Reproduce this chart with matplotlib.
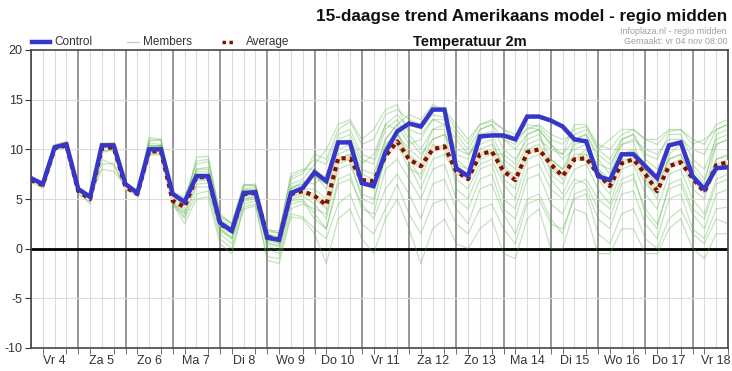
import numpy as np
import matplotlib
matplotlib.use("Agg")
from matplotlib import pyplot as plt

plt.rcParams['font.family'] = ['Liberation Sans', 'DejaVu Sans']

day_labels = ["Vr 4", "Za 5", "Zo 6", "Ma 7", "Di 8", "Wo 9", "Do 10", "Vr 11",
              "Za 12", "Zo 13", "Ma 14", "Di 15", "Wo 16", "Do 17", "Vr 18"]

# 6-hourly values, Vr 4 00:00 .. Vr 18 18:00
control = [7.1, 6.5, 10.2, 10.5, 6.0, 5.2, 10.4, 10.4, 6.5, 5.6, 10.0, 10.0,
           5.5, 4.7, 7.3, 7.3, 2.6, 1.8, 5.6, 5.7, 1.1, 0.9, 5.6, 6.1,
           7.7, 6.8, 10.7, 10.7, 6.6, 6.3, 9.7, 11.8, 12.6, 12.3, 14.0, 14.0,
           8.1, 7.3, 11.3, 11.4, 11.4, 11.0, 13.3, 13.3, 12.9, 12.3, 11.0, 10.8,
           7.3, 6.9, 9.5, 9.5, 8.3, 7.1, 10.4, 10.7, 7.3, 6.0, 8.1, 8.2]

average = [6.9, 6.4, 10.1, 10.4, 5.8, 5.0, 10.1, 10.2, 6.2, 5.5, 9.8, 9.8,
           4.8, 4.2, 7.2, 7.2, 2.5, 1.8, 5.5, 5.6, 1.2, 0.9, 5.5, 5.8,
           5.3, 4.4, 9.1, 9.1, 6.9, 6.8, 9.3, 10.8, 9.0, 8.3, 10.0, 10.3,
           7.8, 7.0, 9.5, 9.8, 7.8, 6.9, 9.7, 10.0, 8.5, 7.3, 9.0, 9.1,
           7.5, 6.3, 8.6, 9.0, 7.5, 5.8, 8.3, 8.7, 7.1, 5.7, 8.4, 8.7]

members = [
    [7.0, 6.5, 10.3, 10.6, 6.0, 5.3, 10.5, 10.5, 6.4, 5.7, 10.4, 10.3, 5.3, 4.6, 7.6, 7.5,
     2.8, 2.0, 5.8, 5.9, 1.5, 1.2, 6.0, 6.5, 7.2, 6.5, 10.5, 10.8, 7.0, 6.8, 10.2, 12.0,
     12.5, 12.0, 13.5, 13.2, 8.5, 8.0, 11.5, 11.8, 11.0, 10.5, 12.2, 12.0, 10.5, 9.0, 10.0, 10.5,
     8.0, 7.0, 9.5, 10.0, 8.5, 7.0, 10.2, 10.8, 7.5, 6.2, 9.0, 9.3],
    [6.8, 6.2, 9.9, 10.3, 5.6, 4.8, 9.8, 10.0, 6.0, 5.3, 9.6, 9.7, 4.8, 3.8, 6.8, 6.9,
     2.0, 1.2, 5.0, 5.2, 0.5, 0.2, 4.8, 5.0, 3.5, 2.0, 6.5, 7.0, 4.5, 3.0, 6.0, 7.5,
     5.5, 3.0, 6.5, 7.0, 4.0, 2.5, 6.0, 6.5, 3.5, 1.5, 5.0, 5.5, 3.0, 1.5, 5.5, 6.0,
     3.0, 2.0, 5.5, 5.8, 2.5, 1.0, 5.0, 5.5, 2.0, 1.0, 4.0, 4.2],
    [7.2, 6.7, 10.4, 10.8, 6.2, 5.5, 10.6, 10.7, 6.6, 5.9, 10.8, 11.0, 5.7, 5.2, 8.5, 8.8,
     3.2, 2.5, 6.4, 6.5, 1.8, 1.8, 7.0, 7.5, 9.5, 9.0, 12.0, 12.8, 10.5, 11.0, 13.5, 14.0,
     13.0, 12.5, 14.3, 13.8, 12.0, 10.5, 12.5, 13.0, 12.0, 11.5, 12.5, 12.3, 11.0, 10.5, 12.0, 12.3,
     10.5, 10.0, 11.5, 12.0, 11.0, 10.5, 11.8, 12.0, 11.0, 10.5, 12.5, 13.0],
    [6.9, 6.3, 10.0, 10.2, 5.7, 4.5, 9.0, 8.4, 6.0, 5.4, 9.5, 9.6, 4.5, 2.5, 5.0, 5.2,
     0.5, -0.5, 4.2, 4.5, -1.2, -1.5, 3.2, 3.0, 1.5, -1.5, 3.0, 4.0, 1.0, -0.5, 3.0, 5.0,
     2.0, -1.5, 2.0, 3.0, 0.5, 0.0, 2.0, 3.0, -0.5, -1.0, 3.0, 4.0, 0.0, 0.0, 4.0, 3.5,
     -0.5, -0.5, 2.0, 2.0, -0.5, -0.5, 2.0, 3.0, 0.0, -1.0, 1.5, 1.5],
    [7.0, 6.4, 10.1, 10.4, 5.8, 5.0, 8.0, 7.8, 6.3, 5.6, 10.0, 10.1, 5.0, 4.0, 9.2, 9.3,
     3.5, 2.5, 6.5, 6.3, 2.0, 1.5, 7.5, 8.0, 8.0, 7.0, 11.0, 11.5, 9.0, 8.5, 12.0, 13.0,
     11.0, 9.5, 11.0, 11.5, 9.5, 9.0, 12.0, 12.5, 10.0, 9.0, 11.0, 11.5, 9.0, 8.0, 10.5, 10.8,
     7.5, 6.5, 9.5, 9.8, 8.0, 6.0, 9.0, 9.5, 7.0, 5.5, 10.5, 11.0],
    [6.7, 6.1, 10.2, 10.5, 5.5, 4.8, 10.2, 10.3, 6.1, 5.5, 11.2, 11.0, 4.6, 3.5, 6.5, 6.6,
     1.5, 0.5, 4.5, 4.8, 0.0, -0.5, 4.0, 4.5, 4.0, 3.5, 8.0, 8.5, 5.5, 5.0, 9.0, 11.0,
     9.0, 7.0, 10.0, 10.5, 7.0, 6.0, 8.5, 9.0, 6.5, 5.0, 9.0, 9.5, 7.0, 5.5, 8.0, 8.5,
     6.0, 4.5, 8.0, 8.5, 5.5, 4.0, 7.5, 8.0, 5.0, 3.5, 7.0, 7.5],
    [7.1, 6.6, 10.4, 10.7, 6.1, 5.4, 10.3, 10.6, 6.5, 5.8, 10.6, 10.5, 5.5, 5.0, 8.0, 8.0,
     3.0, 2.2, 6.0, 6.2, 1.0, 0.8, 6.5, 7.0, 8.5, 10.0, 12.5, 13.0, 11.0, 12.0, 14.0, 14.5,
     11.5, 10.0, 12.0, 12.5, 11.0, 9.5, 11.0, 11.5, 9.0, 8.0, 10.5, 11.0, 10.0, 9.5, 12.5, 12.5,
     10.0, 9.0, 11.0, 11.5, 9.5, 9.0, 11.5, 11.5, 9.0, 8.0, 11.0, 11.5],
    [6.8, 6.3, 10.0, 10.3, 5.9, 5.1, 10.0, 10.1, 6.2, 5.4, 10.2, 10.3, 4.9, 4.2, 7.0, 7.0,
     2.2, 1.5, 5.2, 5.4, 0.8, 0.5, 5.2, 5.5, 5.0, 4.0, 9.0, 9.5, 6.5, 6.0, 10.0, 11.5,
     10.0, 9.0, 12.0, 12.0, 6.0, 5.0, 8.0, 8.5, 5.0, 4.0, 8.0, 8.5, 6.0, 5.0, 7.0, 6.5,
     4.0, 3.0, 6.5, 7.0, 4.0, 2.5, 6.0, 6.5, 3.5, 2.0, 5.5, 6.0],
    [7.0, 6.5, 10.2, 10.5, 5.9, 5.2, 10.4, 10.4, 6.4, 5.6, 9.8, 9.9, 5.2, 4.5, 7.8, 7.7,
     2.5, 1.8, 5.5, 5.7, 1.2, 1.0, 5.8, 6.0, 6.0, 5.0, 10.0, 10.5, 8.0, 7.5, 11.0, 12.5,
     13.5, 13.0, 14.5, 14.0, 12.5, 11.0, 12.5, 12.8, 12.0, 11.0, 12.0, 12.5, 11.5, 11.0, 11.5, 12.0,
     10.0, 11.0, 12.0, 12.0, 11.0, 11.0, 12.0, 12.0, 10.5, 11.0, 12.0, 12.5],
    [6.9, 6.4, 10.1, 10.4, 5.7, 4.9, 8.5, 8.6, 6.1, 5.5, 9.7, 9.8, 4.7, 3.0, 5.5, 5.8,
     1.0, 0.0, 4.0, 4.3, -0.8, -1.0, 3.5, 3.2, 2.0, 1.0, 4.5, 5.5, 2.5, 1.5, 4.0, 6.5,
     3.5, 1.5, 4.5, 5.0, 2.5, 1.5, 4.0, 4.5, 2.0, 0.5, 4.5, 5.0, 2.5, 2.0, 5.0, 5.5,
     1.5, 0.5, 3.5, 4.0, 1.0, 0.0, 3.0, 4.0, 1.5, 0.5, 3.0, 2.5],
    [7.1, 6.5, 10.3, 10.6, 6.0, 5.2, 10.6, 10.5, 6.5, 5.8, 10.2, 10.4, 5.4, 4.8, 7.5, 7.4,
     2.6, 1.9, 5.9, 6.0, 1.4, 1.1, 6.2, 6.5, 7.5, 6.0, 9.5, 10.0, 7.5, 7.0, 11.0, 12.5,
     10.5, 11.0, 13.0, 12.5, 10.0, 9.5, 10.5, 11.0, 8.0, 7.5, 9.5, 10.0, 8.0, 7.0, 11.0, 11.5,
     9.0, 7.5, 10.5, 10.8, 7.0, 5.0, 9.5, 10.5, 8.0, 6.5, 11.5, 12.0],
    [6.9, 6.3, 9.9, 10.2, 5.6, 4.7, 9.7, 9.9, 6.0, 5.3, 9.4, 9.5, 4.4, 3.2, 6.2, 6.2,
     1.8, 1.0, 4.8, 5.0, 0.3, -0.2, 4.5, 4.8, 3.0, 2.0, 7.0, 7.5, 4.0, 3.5, 8.0, 9.0,
     7.0, 5.0, 8.0, 8.5, 5.0, 4.0, 7.0, 7.5, 4.0, 3.0, 7.0, 7.5, 4.5, 3.5, 6.5, 7.0,
     5.0, 4.0, 7.0, 7.5, 3.5, 2.0, 6.5, 7.0, 4.0, 3.0, 6.5, 7.0],
    [7.2, 6.6, 10.5, 10.7, 6.1, 5.4, 10.5, 10.6, 6.6, 5.9, 11.0, 10.9, 5.6, 4.9, 8.8, 9.0,
     3.3, 2.6, 6.3, 6.4, 1.7, 1.6, 7.2, 7.8, 9.0, 8.5, 11.5, 12.0, 9.5, 9.0, 12.5, 13.5,
     12.0, 11.5, 13.0, 13.0, 11.5, 10.0, 12.0, 12.5, 11.0, 10.0, 11.5, 12.0, 10.5, 9.5, 11.0, 11.5,
     9.5, 8.5, 10.5, 11.0, 10.0, 9.5, 11.0, 11.0, 10.0, 9.5, 12.0, 12.5],
    [6.8, 6.2, 10.0, 10.3, 5.8, 5.0, 9.9, 10.0, 6.2, 5.5, 9.9, 10.0, 4.9, 4.0, 7.0, 7.1,
     2.3, 1.6, 5.3, 5.5, 0.9, 0.6, 5.0, 5.3, 4.5, 3.0, 8.5, 9.0, 5.0, 4.5, 9.5, 10.5,
     8.0, 7.5, 10.5, 10.0, 8.0, 7.0, 9.5, 10.0, 7.0, 6.0, 10.0, 10.5, 8.5, 7.5, 9.0, 9.5,
     7.0, 5.5, 8.5, 9.0, 6.5, 5.5, 8.5, 9.0, 6.0, 5.0, 8.5, 9.0],
    [7.0, 6.4, 10.2, 10.4, 5.9, 5.1, 10.2, 10.3, 6.3, 5.6, 10.1, 10.2, 5.1, 4.4, 7.2, 7.2,
     2.4, 1.7, 5.4, 5.6, 1.0, 0.7, 5.5, 5.8, 5.5, 4.5, 9.0, 9.5, 7.0, 6.5, 10.5, 11.5,
     9.5, 8.5, 11.0, 11.5, 9.0, 8.0, 10.0, 10.5, 8.5, 7.0, 10.0, 10.0, 9.0, 8.0, 9.5, 9.5,
     8.0, 6.5, 9.0, 9.0, 8.0, 6.5, 9.0, 9.5, 7.0, 5.5, 9.0, 9.5],
    [6.8, 6.3, 10.1, 10.3, 5.6, 4.9, 10.1, 10.2, 6.2, 5.5, 10.3, 10.4, 4.6, 3.6, 8.0, 8.2,
     2.0, 1.0, 5.0, 5.2, 0.6, 0.3, 6.0, 6.8, 6.5, 7.5, 10.5, 11.0, 8.5, 9.5, 12.5, 12.0,
     8.5, 6.0, 9.0, 9.5, 7.5, 7.0, 9.0, 9.5, 9.5, 8.5, 11.5, 12.0, 7.5, 6.5, 9.0, 10.0,
     8.5, 8.0, 11.0, 11.5, 9.0, 8.0, 10.5, 10.5, 8.5, 7.0, 10.5, 11.0],
]

steps = np.arange(len(control))

fig = plt.figure(figsize=(7.32, 3.71), dpi=100)
ax = fig.add_axes([31 / 732, 1 - 348 / 371, 697 / 732, 298 / 371])

# grid
for s in range(0, 60):
    if s % 4 == 0:
        ax.axvline(s, color="#7a7a7a", lw=1.1, zorder=1)
    else:
        ax.axvline(s, color="#dcdcdc", lw=0.8, zorder=1)
for v in [-5, 5, 10, 15]:
    ax.axhline(v, color="#dcdcdc", lw=0.8, zorder=1)
ax.axhline(0, color="black", lw=2, zorder=2)

for m in members:
    ax.plot(steps, m, color="#55b545", lw=0.9, alpha=0.35, zorder=3)
ax.plot(steps, average, color="#f2e2cc", lw=3.2, zorder=5)
ax.plot(steps, average, color="#7a1500", lw=3.0, ls=(0, (1, 1)), zorder=6)
ax.plot(steps, control, color="#3636c8", lw=3.2, zorder=7, solid_joinstyle="miter")

ax.set_xlim(0, 59)
ax.set_ylim(-10, 20)
ax.set_yticks([-10, -5, 0, 5, 10, 15, 20])
ax.set_yticklabels(["-10", "-5", "0", "5", "10", "15", "20"])
ax.set_xticks(np.arange(2, 60, 4))
ax.set_xticklabels(day_labels)
ax.set_xticks(np.arange(1, 60), minor=True)
ax.tick_params(axis="x", which="major", length=0, labelsize=9, colors="#333333", pad=5)
ax.tick_params(axis="x", which="minor", length=4, color="#555555")
ax.tick_params(axis="y", length=4, labelsize=9, colors="#333333", pad=2)
for sp in ax.spines.values():
    sp.set_color("#444444")
    sp.set_linewidth(1.2)

# legend row
fig.add_artist(plt.Line2D([32 / 732, 50 / 732], [1 - 42 / 371] * 2, color="#3636c8", lw=3.2))
fig.text(54 / 732, 1 - 42 / 371, "Control", fontsize=8.5, color="#333333", va="center")
fig.add_artist(plt.Line2D([127 / 732, 139 / 732], [1 - 42 / 371] * 2, color="#b8dcb0", lw=1))
fig.text(143 / 732, 1 - 42 / 371, "Members", fontsize=8.5, color="#333333", va="center")
fig.add_artist(plt.Line2D([222 / 732, 235 / 732], [1 - 42 / 371] * 2, color="#7a1500", lw=2.5, ls=(0, (1, 1))))
fig.text(246 / 732, 1 - 42 / 371, "Average", fontsize=8.5, color="#333333", va="center")

fig.text(470 / 732, 1 - 42 / 371, "Temperatuur 2m", fontsize=10.5, fontweight="bold",
         ha="center", va="center", color="#111111")
fig.text(727 / 732, 1 - 16 / 371, "15-daagse trend Amerikaans model - regio midden",
         fontsize=12.3, fontweight="bold", ha="right", va="center", color="#111111")
fig.text(727 / 732, 1 - 31 / 371, "Infoplaza.nl - regio midden", fontsize=6.5,
         ha="right", va="center", color="#a0a0a0")
fig.text(727 / 732, 1 - 42 / 371, "Gemaakt: vr 04 nov 08:00", fontsize=6.5,
         ha="right", va="center", color="#a0a0a0")

fig.savefig("out.png", dpi=100)
